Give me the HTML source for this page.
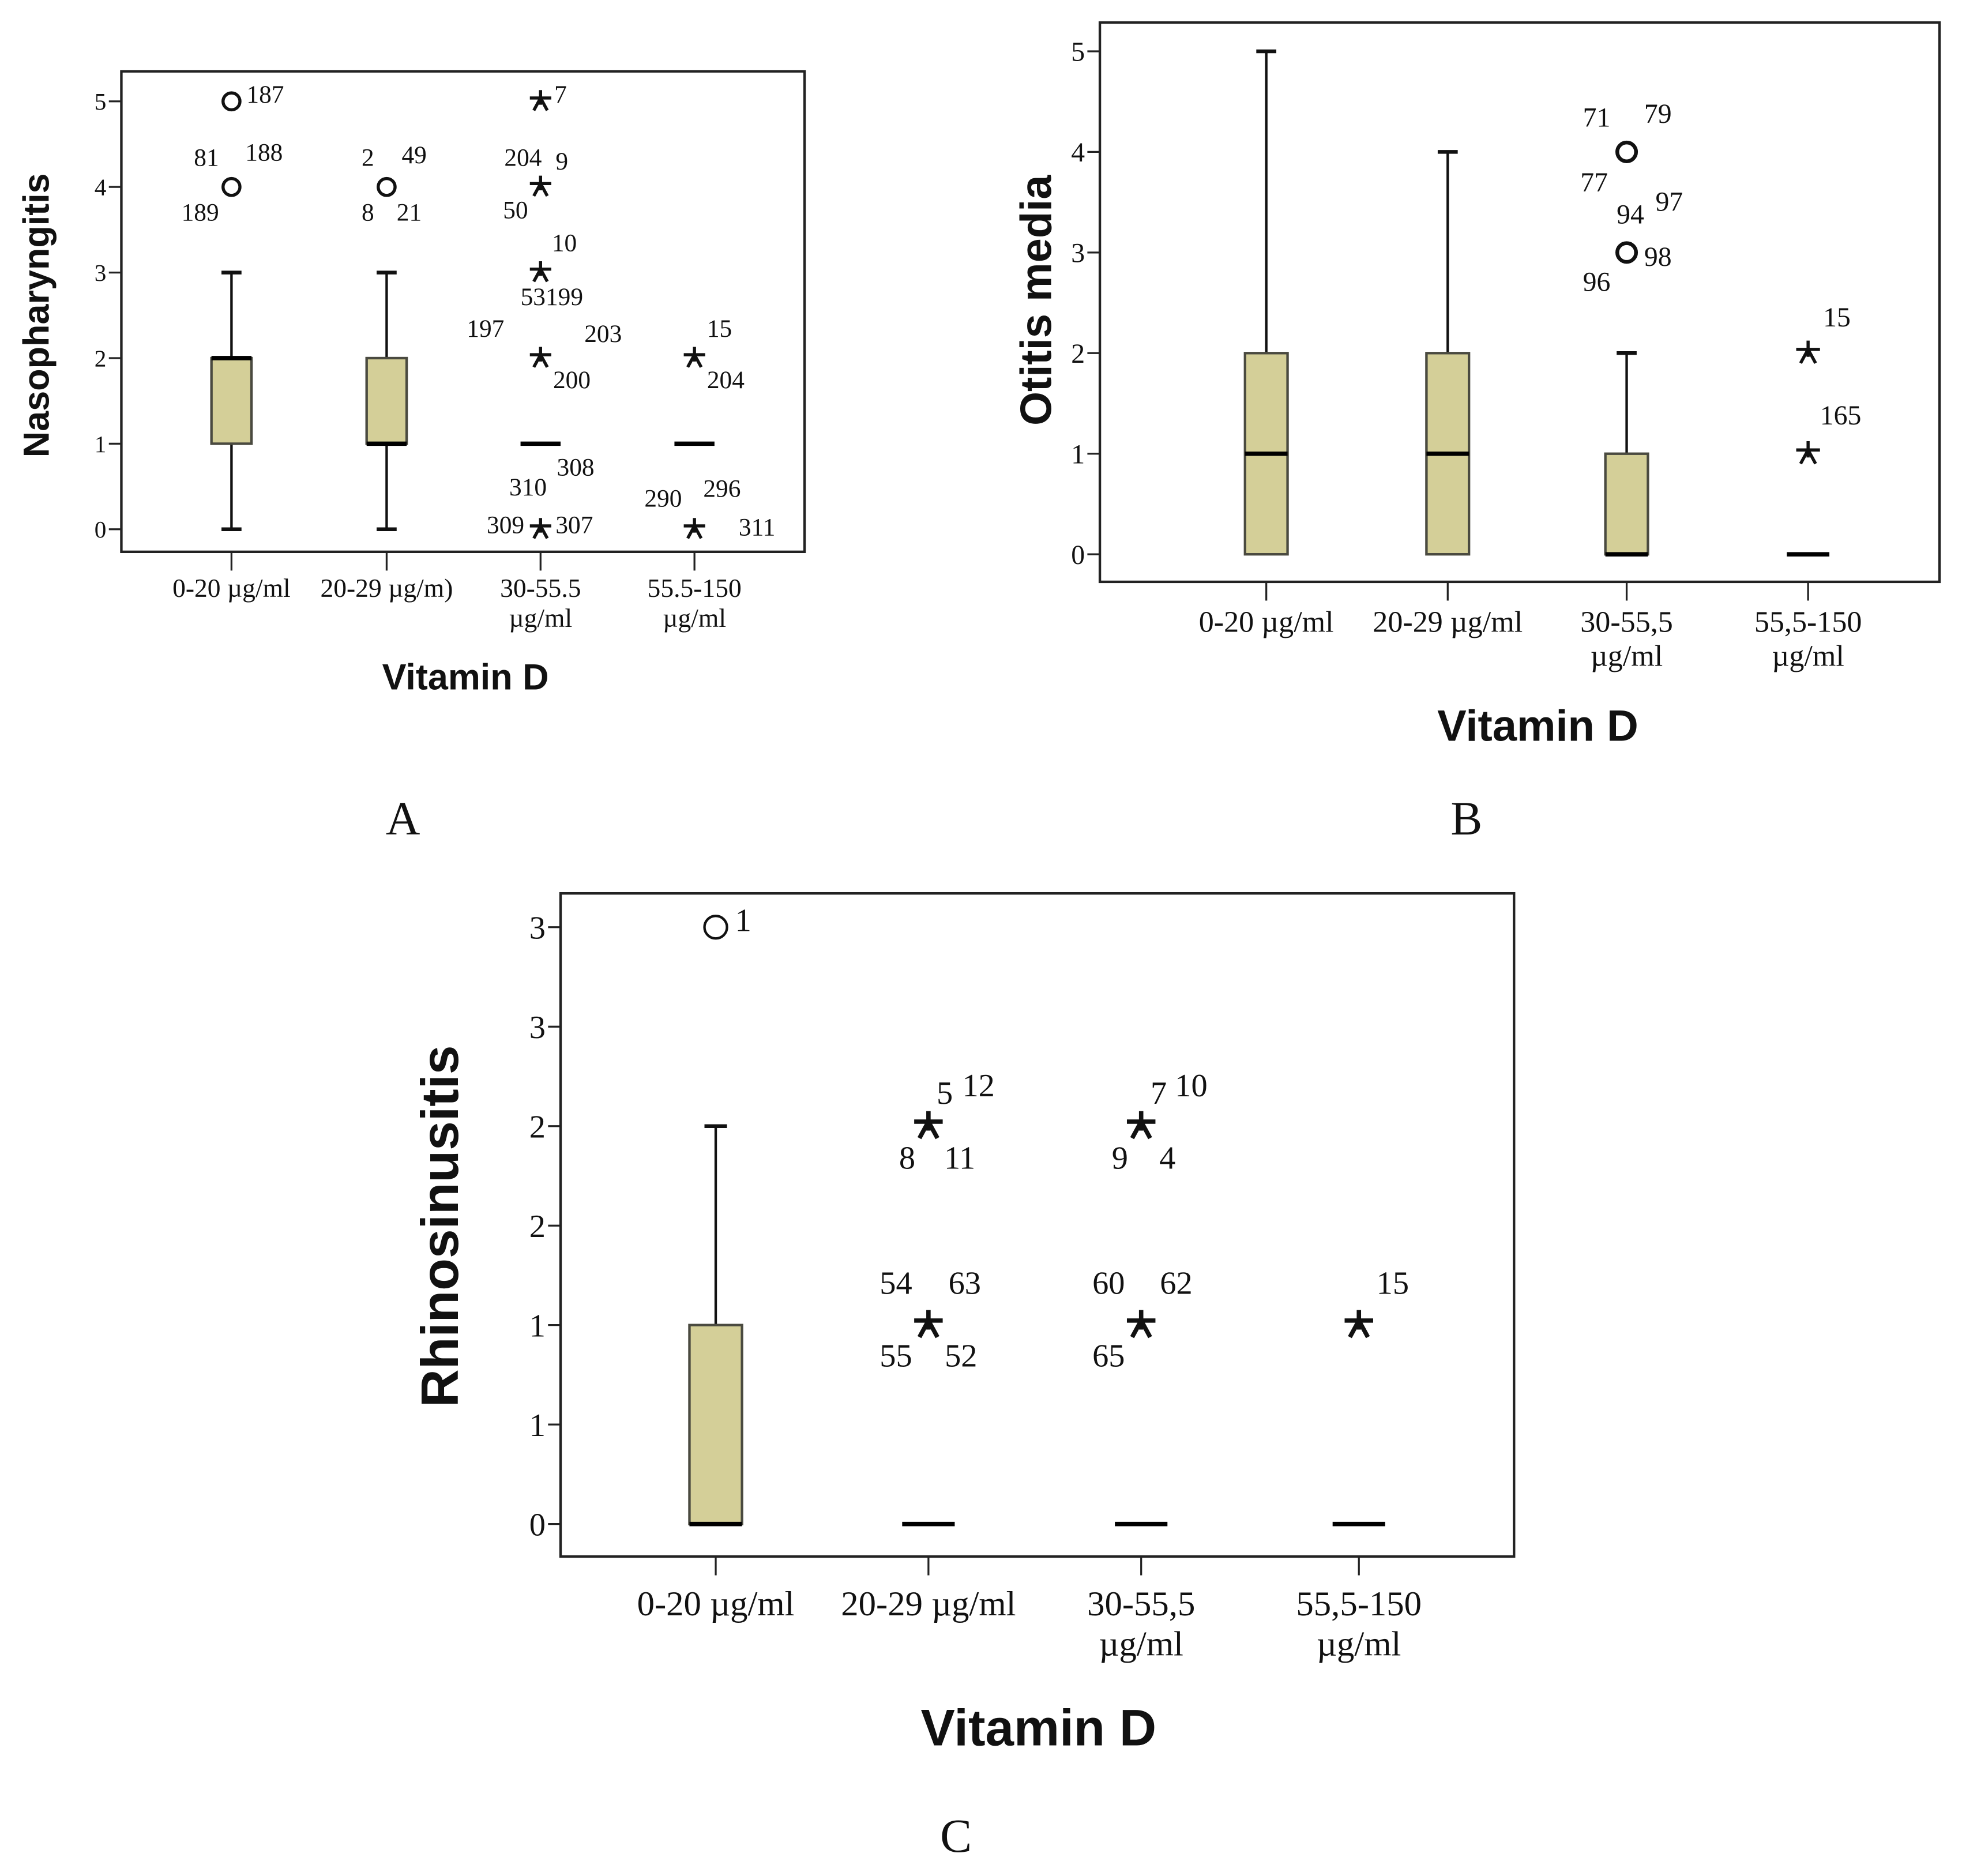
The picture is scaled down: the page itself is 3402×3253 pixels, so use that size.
<!DOCTYPE html>
<html><head><meta charset="utf-8"><style>
html,body{margin:0;padding:0;background:#fff}
svg{display:block}
text{font-family:"Liberation Serif",serif;fill:#111}
.b{font-family:"Liberation Sans",sans-serif;font-weight:bold}
</style></head><body>
<svg id="fig" width="3402" height="3253" viewBox="0 0 1568 1499.3" xmlns="http://www.w3.org/2000/svg">
<text x="322" y="667" font-size="38" text-anchor="middle">A</text>
<text x="1172" y="667" font-size="38" text-anchor="middle">B</text>
<text x="764" y="1480" font-size="38" text-anchor="middle">C</text>
</svg>
<script>
// ---- Panel A: Nasopharyngitis ----
const catsA = ["0-20 µg/ml|", "20-29 µg/m)|", "30-55.5|µg/ml", "55.5-150|µg/ml"];
const q1A = [1, 1, 1, 1];
const medA = [2, 1, 1, 1];
const q3A = [2, 2, 1, 1];
const wLoA = [0, 0, 1, 1];
const wHiA = [3, 3, 1, 1];
const outCatA = [0, 0, 1, 2, 2, 2, 2, 2, 3, 3];
const outValA = [5, 4, 4, 5, 4, 3, 2, 0, 2, 0];
const outTypeA = ["o", "o", "o", "*", "*", "*", "*", "*", "*", "*"];
const outLabelsA = [["187"], ["81", "188", "189"], ["2", "49", "8", "21"], ["7"], ["204", "9", "50"], ["10", "53199"], ["197", "203", "200"], ["310", "308", "309", "307"], ["15", "204"], ["290", "296", "311"]];
const ticksA = ["0", "1", "2", "3", "4", "5"];
const tickValsA = [0, 1, 2, 3, 4, 5];
// label offsets (display px) relative to mark
const offA = [[[27,-6]], [[-20,-24],[26,-28],[-25,20]], [[-15,-24],[22,-26],[-15,20],[18,20]], [[16,-6]], [[-14,-24],[17,-21],[-20,18]], [[19,-24],[9,19]], [[-44,-24],[50,-20],[25,17]], [[-10,-34],[28,-50],[-28,-4],[27,-4]], [[20,-24],[25,17]], [[-25,-25],[22,-33],[50,-2]]];

// ---- Panel B: Otitis media ----
const catsB = ["0-20 µg/ml|", "20-29 µg/ml|", "30-55,5|µg/ml", "55,5-150|µg/ml"];
const q1B = [0, 0, 0, 0];
const medB = [1, 1, 0, 0];
const q3B = [2, 2, 1, 0];
const wLoB = [0, 0, 0, 0];
const wHiB = [5, 4, 2, 0];
const outCatB = [2, 2, 3, 3];
const outValB = [4, 3, 2, 1];
const outTypeB = ["o", "o", "*", "*"];
const outLabelsB = [["71", "79", "77"], ["94", "97", "96", "98"], ["15"], ["165"]];
const ticksB = ["0", "1", "2", "3", "4", "5"];
const tickValsB = [0, 1, 2, 3, 4, 5];
const offB = [[[-24,-28],[25,-31],[-26,24]], [[3,-31],[34,-41],[-24,23],[25,3]], [[23,-29]], [[26,-31]]];

// ---- Panel C: Rhinosinusitis ----
const catsC = ["0-20 µg/ml|", "20-29 µg/ml|", "30-55,5|µg/ml", "55,5-150|µg/ml"];
const q1C = [0, 0, 0, 0];
const medC = [0, 0, 0, 0];
const q3C = [1, 0, 0, 0];
const wLoC = [0, 0, 0, 0];
const wHiC = [2, 0, 0, 0];
const outCatC = [0, 1, 1, 2, 2, 3];
const outValC = [3, 2, 1, 2, 1, 1];
const outTypeC = ["o", "*", "*", "*", "*", "*"];
const outLabelsC = [["1"], ["5", "12", "8", "11"], ["54", "63", "55", "52"], ["7", "10", "9", "4"], ["60", "62", "65"], ["15"]];
const ticksC = ["0", "1", "1", "2", "2", "3", "3"];
const tickValsC = [0, 0.5, 1, 1.5, 2, 2.5, 3];
const offC = [[[22,-6]], [[13,-27],[40,-33],[-17,25],[25,25]], [[-26,-34],[29,-34],[-26,24],[26,24]], [[14,-27],[40,-33],[-17,25],[21,25]], [[-26,-34],[28,-34],[-26,24]], [[27,-34]]];

const NS = "http://www.w3.org/2000/svg";
const svg = document.getElementById('fig');
function mk(tag, attrs, parent) {
  const e = document.createElementNS(NS, tag);
  for (const k in attrs) e.setAttribute(k, attrs[k]);
  (parent || svg).appendChild(e);
  return e;
}

function panel(cfg) {
  const g = mk('g', {});
  
  
  const y = v => cfg.y0 + (v - cfg.vmin) * (cfg.y1 - cfg.y0) / (cfg.vmax - cfg.vmin);
  const x = i => cfg.cx[i];
  const fr = mk('rect', {x: cfg.L, y: cfg.T, width: cfg.R - cfg.L, height: cfg.B - cfg.T, fill: 'none', stroke: '#222', 'stroke-width': 2}, g);
  
  
  cfg.tickVals.forEach((v, i) => {
    const tl = mk('line', {x1: cfg.L - 10, x2: cfg.L, y1: y(v), y2: y(v), stroke: '#222', 'stroke-width': 1.5}, g);
    
    
    const t = mk('text', {x: cfg.L - 12, y: y(v) + cfg.tf * 0.35, 'font-size': cfg.tf, 'text-anchor': 'end'}, g);
    t.textContent = cfg.ticks[i];
    
    
  });
  cfg.cats.forEach((c, i) => {
    const tl = mk('line', {x1: x(i), x2: x(i), y1: cfg.B, y2: cfg.B + 15, stroke: '#222', 'stroke-width': 1.5}, g);
    
    
    const parts = c.split('|');
    parts.forEach((p, j) => {
      if (!p) return;
      const t = mk('text', {x: x(i), y: cfg.ly[j], 'font-size': cfg.cf, 'text-anchor': 'middle'}, g);
      t.textContent = p;
      
      
    });
  });
  cfg.cats.forEach((c, i) => {
    if (cfg.wHi[i] > cfg.q3[i]) {
      const w = mk('line', {x1: x(i), x2: x(i), y1: y(cfg.q3[i]), y2: y(cfg.wHi[i]), stroke: '#111', 'stroke-width': 2}, g);
      
      
      const cap = mk('line', {x1: x(i) - cfg.cap, x2: x(i) + cfg.cap, y1: y(cfg.wHi[i]), y2: y(cfg.wHi[i]), stroke: '#111', 'stroke-width': 3}, g);
      
      
    }
    if (cfg.wLo[i] < cfg.q1[i]) {
      const w = mk('line', {x1: x(i), x2: x(i), y1: y(cfg.q1[i]), y2: y(cfg.wLo[i]), stroke: '#111', 'stroke-width': 2}, g);
      
      
      const cap = mk('line', {x1: x(i) - cfg.cap, x2: x(i) + cfg.cap, y1: y(cfg.wLo[i]), y2: y(cfg.wLo[i]), stroke: '#111', 'stroke-width': 3}, g);
      
      
    }
    if (cfg.q3[i] > cfg.q1[i]) {
      const b = mk('rect', {x: x(i) - cfg.bw, y: y(cfg.q3[i]), width: 2 * cfg.bw, height: y(cfg.q1[i]) - y(cfg.q3[i]), fill: '#d4cf98', stroke: '#4a4a40', 'stroke-width': 2}, g);
      
      
    }
    const m = mk('line', {x1: x(i) - cfg.bw, x2: x(i) + cfg.bw, y1: y(cfg.med[i]), y2: y(cfg.med[i]), stroke: '#000', 'stroke-width': 3.5}, g);
    
    
  });
  cfg.outCat.forEach((ci, k) => {
    const px = x(ci), py = y(cfg.outVal[k]);
    if (cfg.outType[k] === 'o') {
      const c = mk('circle', {cx: px, cy: py, r: cfg.mr * 0.75, fill: 'none', stroke: '#111', 'stroke-width': cfg.cw}, g);
      
      
    } else {
      const r = cfg.mr;
      const d = `M${px},${py - r}L${px},${py + r * 0.3}M${px - r * 0.95},${py - r * 0.3}L${px + r * 0.95},${py - r * 0.3}M${px - r * 0.6},${py + r * 0.8}L${px},${py - r * 0.3}L${px + r * 0.6},${py + r * 0.8}`;
      const s = mk('path', {d: d, fill: 'none', stroke: '#111', 'stroke-width': cfg.sw}, g);
      
      
    }
    cfg.outLabels[k].forEach((lab, j) => {
      const o = cfg.off[k][j];
      const t = mk('text', {x: px + o[0], y: py + o[1] + cfg.of * 0.35, 'font-size': cfg.of, 'text-anchor': 'middle'}, g);
      t.textContent = lab;
      
      
    });
  });
  const xt = mk('text', {x: cfg.xtx, y: cfg.xty, 'font-size': cfg.xf, 'text-anchor': 'middle', class: 'b'}, g);
  xt.textContent = 'Vitamin D';
  
  
  const yt = mk('text', {x: 0, y: 0, 'font-size': cfg.yf, 'text-anchor': 'middle', class: 'b', transform: `translate(${cfg.ytx},${cfg.yty}) rotate(-90)`}, g);
  yt.textContent = cfg.ytitle;
  
  
}

panel({name: 'panel-a-nasopharyngitis', L: 97, T: 57, R: 643, B: 441, vmin: 0, vmax: 5, y0: 423, y1: 81,
  cx: [185, 309, 432, 555], cats: catsA, q1: q1A, med: medA, q3: q3A, wLo: wLoA, wHi: wHiA,
  outCat: outCatA, outVal: outValA, outType: outTypeA, outLabels: outLabelsA, off: offA,
  ticks: ticksA, tickVals: tickValsA, tf: 19, cf: 21, of: 20, ly: [477, 501], bw: 16, cap: 8, mr: 9, sw: 2.5, cw: 2.5,
  xtx: 372, xty: 551, xf: 29, ytx: 39, yty: 252, yf: 29, ytitle: 'Nasopharyngitis'});
panel({name: 'panel-b-otitis-media', L: 879, T: 18, R: 1550, B: 465, vmin: 0, vmax: 5, y0: 443, y1: 41,
  cx: [1012, 1157, 1300, 1445], cats: catsB, q1: q1B, med: medB, q3: q3B, wLo: wLoB, wHi: wHiB,
  outCat: outCatB, outVal: outValB, outType: outTypeB, outLabels: outLabelsB, off: offB,
  ticks: ticksB, tickVals: tickValsB, tf: 22, cf: 24, of: 22, ly: [505, 532], bw: 17, cap: 8, mr: 10, sw: 2.5, cw: 3,
  xtx: 1229, xty: 592, xf: 35, ytx: 840, yty: 240, yf: 35, ytitle: 'Otitis media'});
panel({name: 'panel-c-rhinosinusitis', L: 448, T: 714, R: 1210, B: 1244, vmin: 0, vmax: 3, y0: 1218, y1: 741,
  cx: [572, 742, 912, 1086], cats: catsC, q1: q1C, med: medC, q3: q3C, wLo: wLoC, wHi: wHiC,
  outCat: outCatC, outVal: outValC, outType: outTypeC, outLabels: outLabelsC, off: offC,
  ticks: ticksC, tickVals: tickValsC, tf: 26, cf: 28, of: 26, ly: [1291, 1323], bw: 21, cap: 9, mr: 12, sw: 3.5, cw: 2,
  xtx: 830, xty: 1395, xf: 41, ytx: 366, yty: 980, yf: 42, ytitle: 'Rhinosinusitis'});
</script>
</body></html>
